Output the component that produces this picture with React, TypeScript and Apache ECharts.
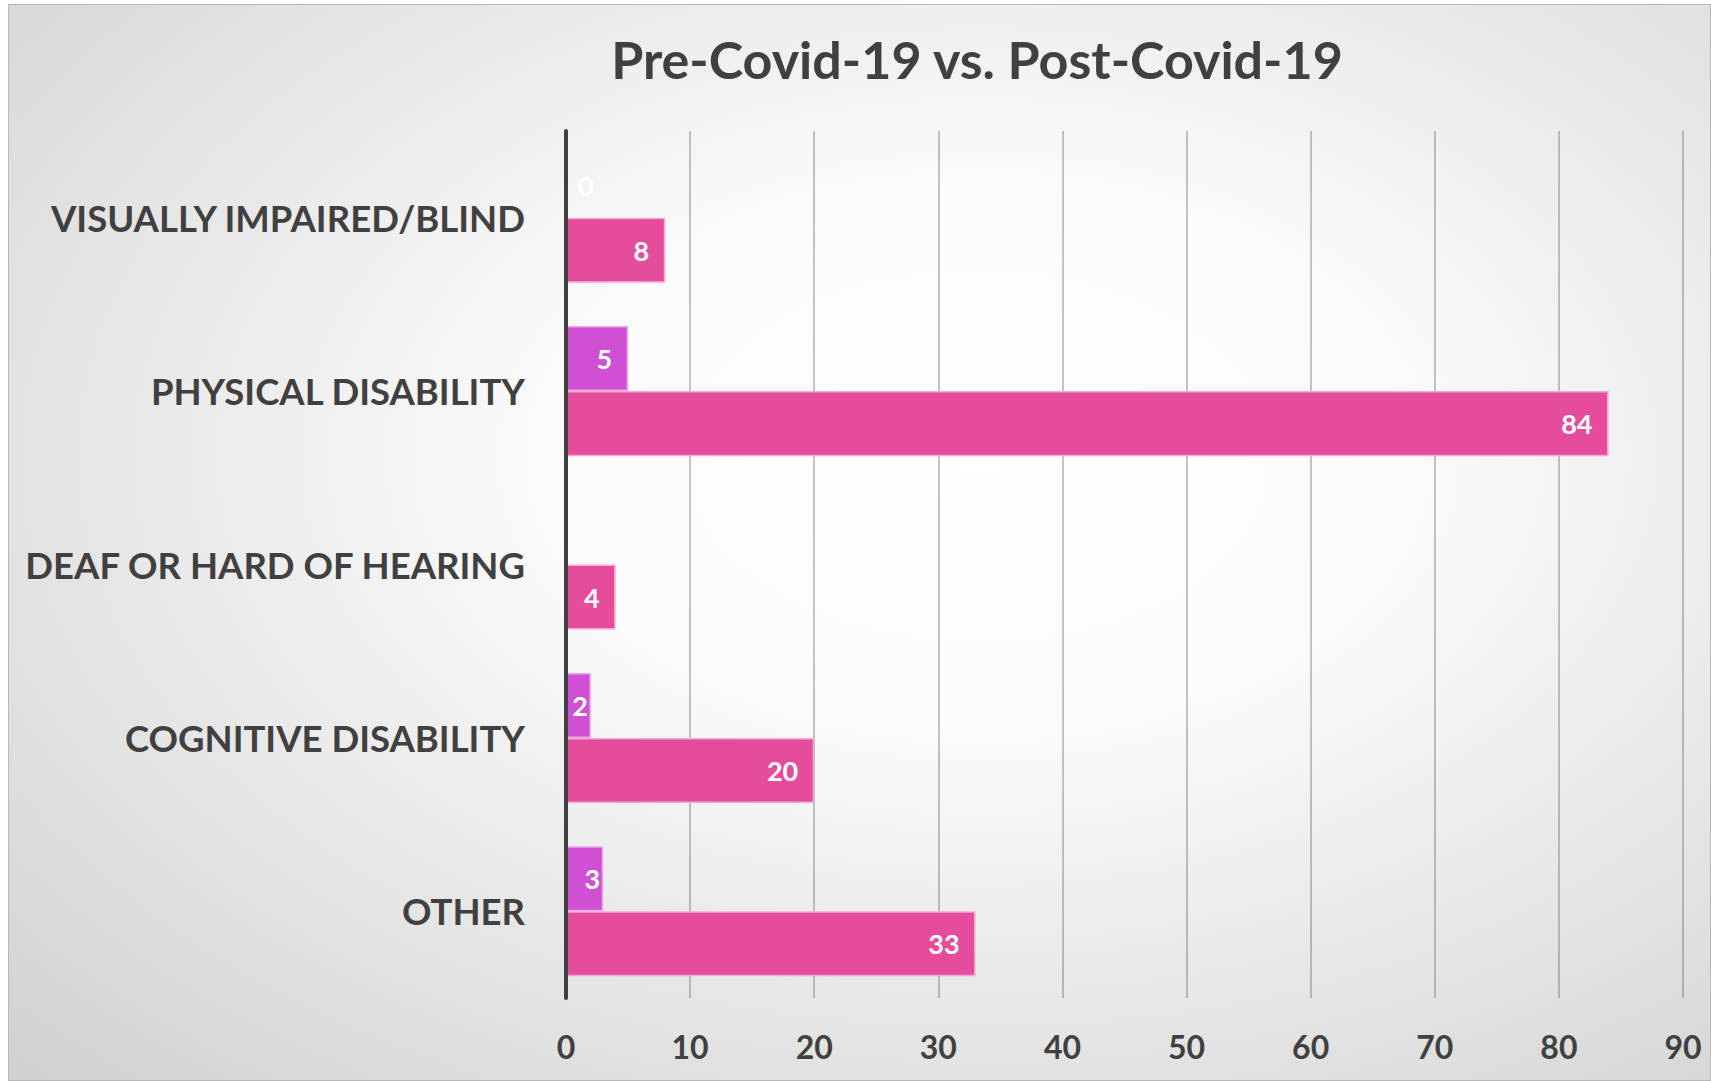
import React, { useEffect, useRef } from "react";
import * as echarts from "echarts";

const titleText = "Pre-Covid-19 vs. Post-Covid-19";
const categories = [
  "VISUALLY IMPAIRED/BLIND",
  "PHYSICAL DISABILITY",
  "DEAF OR HARD OF HEARING",
  "COGNITIVE DISABILITY",
  "OTHER",
];
const preCovid: (number | null)[] = [0, 5, null, 2, 3];
const postCovid: (number | null)[] = [8, 84, 4, 20, 33];
const xTicks = { min: 0, max: 90, interval: 10 };

const FONT = "Lato, 'Noto Sans', sans-serif";
const TXT = "#404040";

function itemFor(v: number | null) {
  if (v === 0) return { value: v, label: { position: "right", distance: 12 }, itemStyle: { borderWidth: 0 } };
  if (v !== null && v < 4) return { value: v, label: { distance: 3 } };
  return v;
}

export default function App() {
  const ref = useRef<HTMLDivElement>(null);
  useEffect(() => {
    if (!ref.current) return;
    const chart = echarts.init(ref.current, null, { renderer: "svg" });
    const W = 1703;
    const H = 1077;
    const mkBar = (name: string, data: (number | null)[], color: string, border: string) => ({
      name,
      type: "bar",
      barGap: "0%",
      barCategoryGap: "25%",
      data: data.map(itemFor),
      itemStyle: { color, borderColor: border, borderWidth: 1.5 },
      label: {
        show: true,
        position: "insideRight",
        distance: 16,
        color: "#ffffff",
        fontFamily: FONT,
        fontWeight: "bold",
        fontSize: 27,
      },
      z: 3,
    });
    chart.setOption({
      animation: false,
      textStyle: { fontFamily: FONT },
      graphic: [
        {
          type: "rect",
          z: -100,
          silent: true,
          shape: { x: 0, y: 0, width: W, height: H },
          style: {
            fill: new echarts.graphic.RadialGradient(0.57, 0.42, 1.0, [
              { offset: 0, color: "#ffffff" },
              { offset: 0.25, color: "#fbfbfb" },
              { offset: 1, color: "#c2c2c2" },
            ]),
            stroke: "#b8b8b8",
            lineWidth: 2,
          },
        },
        {
          type: "text",
          x: 969,
          y: 55,
          z: 10,
          style: {
            text: titleText,
            textAlign: "center",
            textVerticalAlign: "middle",
            fontFamily: FONT,
            fontWeight: "bold",
            fontSize: 52,
            fill: TXT,
          },
        },
      ],
      grid: { left: 558, right: 28, top: 127, bottom: 83, containLabel: false },
      xAxis: {
        type: "value",
        min: xTicks.min,
        max: xTicks.max,
        interval: xTicks.interval,
        axisLine: { show: false },
        axisTick: { show: false },
        splitLine: { show: true, lineStyle: { color: "rgba(90,90,90,0.35)", width: 2 } },
        axisLabel: {
          color: TXT,
          fontFamily: FONT,
          fontWeight: "bold",
          fontSize: 32,
          margin: 32,
        },
      },
      yAxis: {
        type: "category",
        inverse: true,
        data: categories,
        z: 5,
        axisLine: { show: true, lineStyle: { color: TXT, width: 4 } },
        axisTick: { show: false },
        splitLine: { show: false },
        axisLabel: {
          color: TXT,
          fontFamily: FONT,
          fontWeight: "bold",
          fontSize: 36.5,
          margin: 41,
        },
      },
      series: [
        mkBar("Pre-Covid-19", preCovid, "#d050d4", "#eaa6ee"),
        mkBar("Post-Covid-19", postCovid, "#e64c9c", "#f5a8d2"),
      ],
    });
    return () => chart.dispose();
  }, []);
  return (
    <div
      ref={ref}
      style={{ position: "absolute", left: 8, top: 4, width: 1703, height: 1077 }}
    />
  );
}
